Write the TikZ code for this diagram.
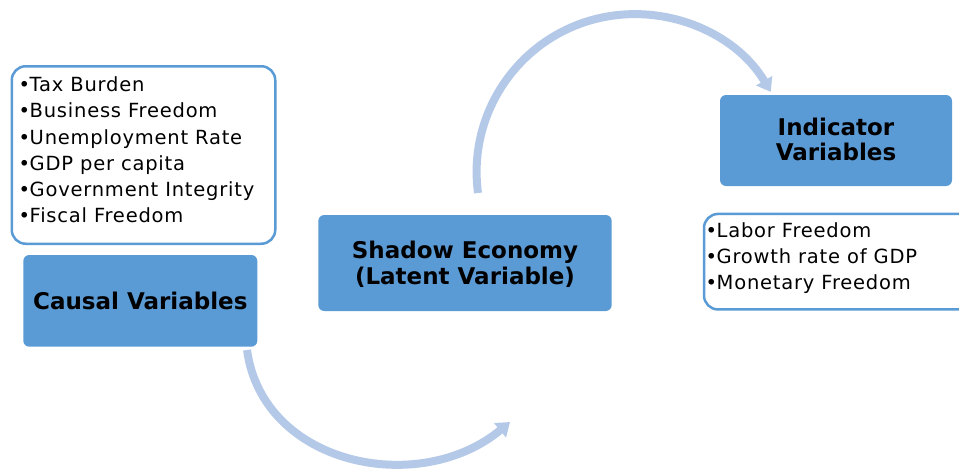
\documentclass[tikz,border=0pt]{standalone}
\usepackage{fontspec}
\setmainfont{DejaVu Sans}
\usetikzlibrary{arrows.meta}
\newfontfamily\listfont[LetterSpace=4]{DejaVu Sans}
\newfontfamily\headfont{DejaVu Sans}
\definecolor{boxblue}{HTML}{5B9BD5}
\definecolor{arrowblue}{HTML}{B4C8E8}
\begin{document}
\begin{tikzpicture}[x=1pt,y=-1pt,
  filledbox/.style={draw=none, fill=boxblue, rounded corners=6pt, inner sep=0pt, minimum width=#1},
  listbox/.style={draw=boxblue, line width=2.5pt, fill=white, rounded corners=14pt, inner sep=0pt},
  listline/.style={anchor=base west, inner sep=0pt, font=\listfont\fontsize{19.5}{26}\selectfont},
  headline/.style={anchor=base, inner sep=0pt, font=\headfont\bfseries\fontsize{23}{25}\selectfont},
  flowarrow/.style={draw=arrowblue, line width=8pt, -{Triangle[width=18pt,length=13pt]}}]

\clip (0,0) rectangle (959,469);
\fill[white] (0,0) rectangle (959,469);

% boxes
\node[listbox, minimum width=263.5pt, minimum height=177.5pt] (causelist) at (143.5,155) {};
\node[filledbox=234pt, minimum height=91.7pt] (cause) at (140.3,300.85) {};
\node[filledbox=293.4pt, minimum height=96pt] (shadow) at (465,263) {};
\node[filledbox=232pt, minimum height=91pt] (indicator) at (836,140.5) {};
\node[listbox, minimum width=296pt, minimum height=95.5pt] (indlist) at (852,261.7) {};

% titles
\node[headline] (causetxt) at (140.3,309.5) {Causal Variables};
\node[headline] (shadowtxt1) at (465,258.3) {Shadow Economy};
\node[headline] (shadowtxt2) at (465,284) {(Latent Variable)};
\node[headline] (indtxt1) at (836,135) {Indicator};
\node[headline] (indtxt2) at (836,160) {Variables};

% causal list
\node[listline] (c1) at (18.5,91.7) {•\kern-0.5pt Tax Burden};
\node[listline] (c2) at (18.5,117.9) {•\kern-0.5pt Business Freedom};
\node[listline] (c3) at (18.5,144.1) {•\kern-0.5pt Unemployment Rate};
\node[listline] (c4) at (18.5,170.3) {•\kern-0.5pt GDP per capita};
\node[listline] (c5) at (18.5,196.5) {•\kern-0.5pt Government Integrity};
\node[listline] (c6) at (18.5,222.7) {•\kern-0.5pt Fiscal Freedom};

% indicator list
\node[listline] (i1) at (705.5,237.3) {•\kern-0.5pt Labor Freedom};
\node[listline] (i2) at (705.5,263.3) {•\kern-0.5pt Growth rate of GDP};
\node[listline] (i3) at (705.5,289.3) {•\kern-0.5pt Monetary Freedom};

% arrows
\coordinate (a1s) at (247,350);
\coordinate (a1e) at (510,422);
\coordinate (a2s) at (478,193);
\draw[flowarrow] (a1s) .. controls (263,466) and (420,497) .. (a1e);
\draw[flowarrow] (a2s) arc[start angle=172.4, end angle=329.5, radius=158];
\end{tikzpicture}
\end{document}
